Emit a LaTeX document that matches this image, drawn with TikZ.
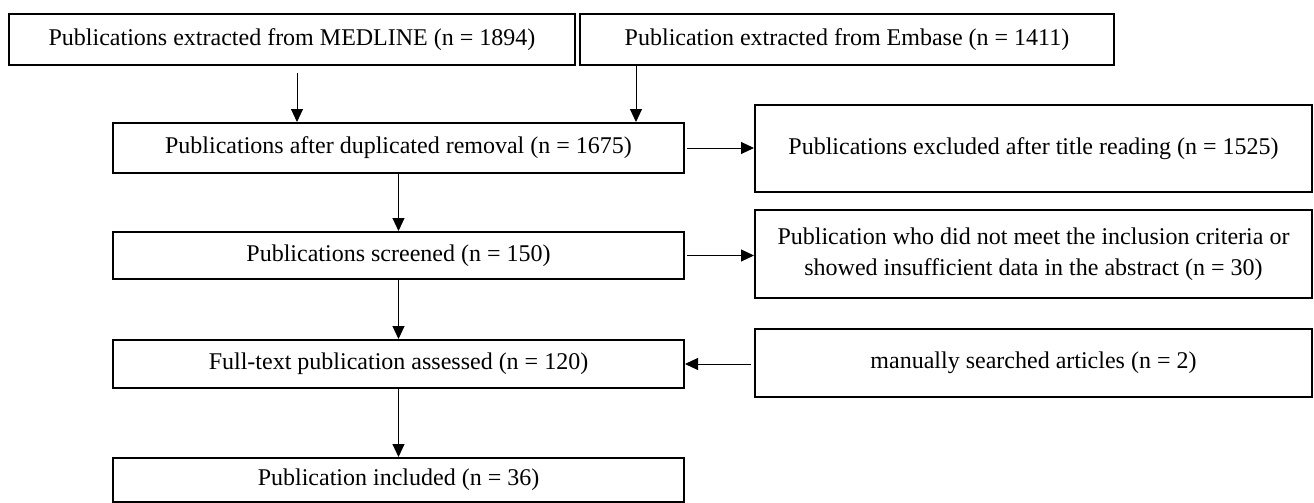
\documentclass[tikz,border=0pt]{standalone}
\usepackage{fontspec}
\setmainfont{Liberation Serif}
\usetikzlibrary{arrows.meta,calc}
\tikzset{
  bx/.style={draw=black, line width=1pt, inner sep=0pt, align=center,
             font=\fontsize{12}{15.5}\selectfont, text=black},
  arr/.style={-{Triangle[width=6pt,length=6.5pt]}, line width=0.5pt, draw=black}
}
\begin{document}
\begin{tikzpicture}[x=0.5pt,y=-0.5pt]
\useasboundingbox (0,0) rectangle (1314,503);
\node[bx, minimum width=283pt, minimum height=25.5pt] (A) at (292,39.5) {Publications extracted from MEDLINE (n = 1894)};
\node[bx, minimum width=267pt, minimum height=25.5pt] (B) at (847,39.5) {Publication extracted from Embase (n = 1411)};
\node[bx, minimum width=285.5pt, minimum height=25pt] (C) at (398.5,148) {Publications after duplicated removal (n = 1675)};
\node[bx, minimum width=278.5pt, minimum height=43.5pt] (D) at (1033.5,148.5) {Publications excluded after title reading (n = 1525)};
\node[bx, minimum width=285.5pt, minimum height=23.5pt] (E) at (398.5,255.5) {Publications screened (n = 150)};
\node[bx, minimum width=278.5pt, minimum height=44pt] (F) at (1033.5,254) {Publication who did not meet the inclusion criteria or\\showed insufficient data in the abstract (n = 30)};
\node[bx, minimum width=285.5pt, minimum height=24pt] (G) at (398.5,364) {Full-text publication assessed (n = 120)};
\node[bx, minimum width=278.5pt, minimum height=34pt] (H) at (1033.5,363) {manually searched articles (n = 2)};
\node[bx, minimum width=285.5pt, minimum height=22pt] (I) at (398.5,480) {Publication included (n = 36)};
\coordinate (a1) at ([xshift=2.5pt,yshift=-3.5pt]A.south);
\coordinate (b1) at ([xshift=-105.5pt]B.south);
\coordinate (hg) at (H.west |- G.east);
\draw[arr] (a1) -- (a1 |- C.north);
\draw[arr] (b1) -- (b1 |- C.north);
\draw[arr] ([xshift=1pt]C.east) -- (C.east -| D.west);
\draw[arr] (C.south) -- (E.north);
\draw[arr] ([xshift=1pt]E.east) -- (E.east -| F.west);
\draw[arr] (E.south) -- (G.north);
\draw[arr] ([xshift=-1.5pt]hg) -- (G.east);
\draw[arr] (G.south) -- (I.north);
\end{tikzpicture}
\end{document}
